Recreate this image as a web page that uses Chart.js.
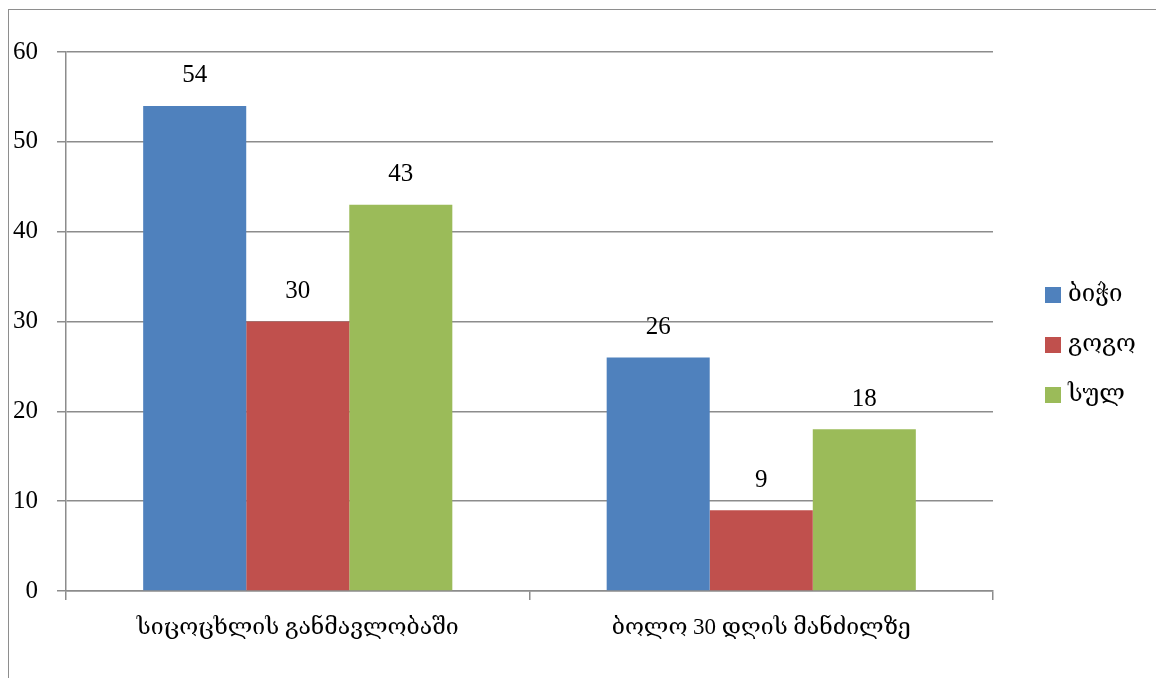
<!DOCTYPE html>
<html>
<head>
<meta charset="utf-8">
<script src="https://cdn.jsdelivr.net/npm/chart.js@4.4.0/dist/chart.umd.min.js"></script>
<style>
    html, body { margin: 0; padding: 0; background: #fff; }
    #wrap { position: relative; width: 1156px; height: 678px; overflow: hidden; }
    #frame { position: absolute; left: 8px; top: 9px; width: 1200px; height: 720px; border-left: 1px solid #8e8e8e; border-top: 1px solid #8e8e8e; }
    #chart { position: absolute; left: 0; top: 0; }
</style>
</head>
<body>
<div id="wrap">
    <div id="frame"></div>
    <canvas id="chart" width="1156" height="678"></canvas>
</div>
<script>
// survey groups and answers
const categories = ["სიცოცხლის განმავლობაში", "ბოლო 30 დღის მანძილზე"];
const seriesNames = ["ბიჭი", "გოგო", "სულ"];
const boys = [54, 26];
const girls = [30, 9];
const total = [43, 18];
const seriesColors = ["#4F81BD", "#C0504D", "#9BBB59"];
const yMin = 0;
const yMax = 60;
const yStep = 10;

const FONT_FAMILY = '"Liberation Serif", "DejaVu Serif", serif';
const GRID_COLOR = "#8c8c8c";

// numbers above each bar
const valueLabels = {
    id: "valueLabels",
    afterDatasetsDraw(chart) {
        const ctx = chart.ctx;
        ctx.save();
        ctx.font = "25px " + FONT_FAMILY;
        ctx.fillStyle = "#000";
        ctx.textAlign = "center";
        ctx.textBaseline = "middle";
        chart.data.datasets.forEach((ds, i) => {
            chart.getDatasetMeta(i).data.forEach((bar, j) => {
                ctx.fillText(String(ds.data[j]), bar.x, bar.y - 30);
            });
        });
        ctx.restore();
    }
};

// legend on the right, one item per row
const sideLegend = {
    id: "sideLegend",
    afterDraw(chart) {
        const ctx = chart.ctx;
        const boxX = chart.chartArea.right + 52;
        const firstY = 295;
        const rowGap = 50;
        ctx.save();
        ctx.font = "24px " + FONT_FAMILY;
        ctx.textAlign = "left";
        ctx.textBaseline = "middle";
        chart.data.datasets.forEach((ds, i) => {
            const cy = firstY + i * rowGap;
            ctx.fillStyle = ds.backgroundColor;
            ctx.fillRect(boxX, cy - 8, 16, 16);
            ctx.fillStyle = "#000";
            ctx.fillText(ds.label, boxX + 23, cy);
        });
        ctx.restore();
    }
};

const ctx = document.getElementById("chart").getContext("2d");
const chart = new Chart(ctx, {
    type: "bar",
    data: {
        labels: categories,
        datasets: [
            { label: seriesNames[0], data: boys, backgroundColor: seriesColors[0] },
            { label: seriesNames[1], data: girls, backgroundColor: seriesColors[1] },
            { label: seriesNames[2], data: total, backgroundColor: seriesColors[2] }
        ]
    },
    options: {
        responsive: false,
        animation: false,
        datasets: {
            bar: { categoryPercentage: 0.667, barPercentage: 1.0 }
        },
        layout: {
            padding: { top: 52, left: 8, right: 163, bottom: 0 }
        },
        plugins: {
            legend: { display: false },
            tooltip: { enabled: false }
        },
        scales: {
            x: {
                afterFit: (scale) => { scale.height = 87; },
                grid: {
                    drawOnChartArea: false,
                    drawTicks: true,
                    tickLength: 9,
                    color: GRID_COLOR,
                    lineWidth: 1.5
                },
                border: { color: GRID_COLOR, width: 1.5 },
                ticks: {
                    color: "#000",
                    padding: 14,
                    font: { family: FONT_FAMILY, size: 23 }
                }
            },
            y: {
                min: yMin,
                max: yMax,
                afterFit: (scale) => { scale.width = 58; },
                grid: {
                    drawTicks: true,
                    tickLength: 9,
                    color: GRID_COLOR,
                    lineWidth: 1.5
                },
                border: { color: GRID_COLOR, width: 1.5 },
                ticks: {
                    stepSize: yStep,
                    color: "#000",
                    padding: 19,
                    font: { family: FONT_FAMILY, size: 25 }
                }
            }
        }
    },
    plugins: [valueLabels, sideLegend]
});
</script>
</body>
</html>
